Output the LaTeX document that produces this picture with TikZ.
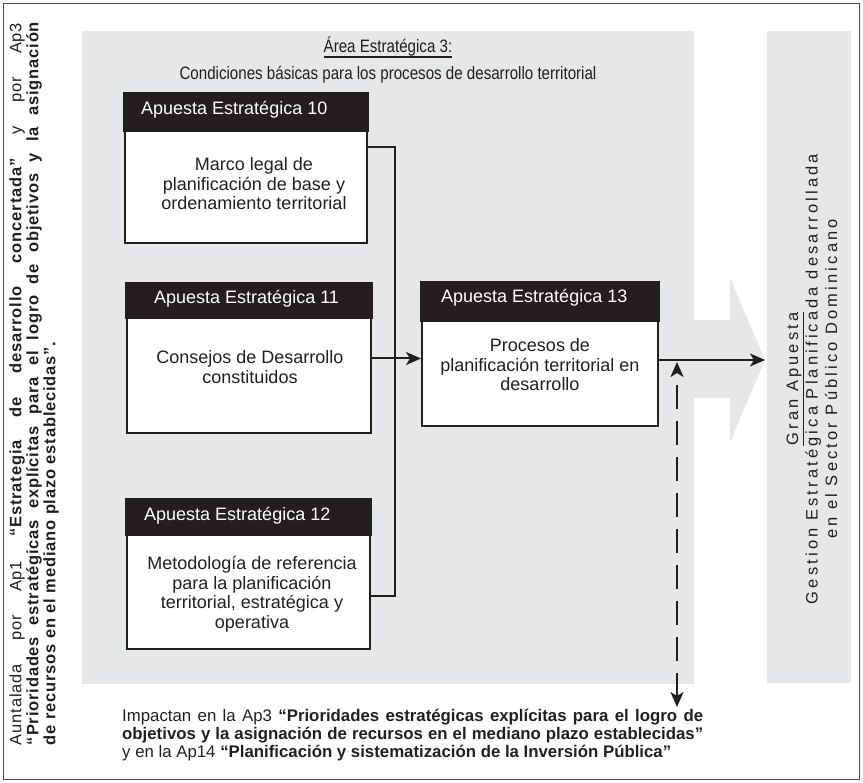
\documentclass[tikz,border=0pt]{standalone}
\usepackage{fontspec}
\setmainfont{Liberation Sans}
\newfontfamily\narrowfont[FakeStretch=0.84]{Liberation Sans}
\newfontfamily\spacedfont[LetterSpace=19]{Liberation Sans}
\newfontfamily\sidefont[LetterSpace=5]{Liberation Sans}
\usetikzlibrary{arrows.meta}
\definecolor{panel}{HTML}{E6E7E8}
\definecolor{ink}{HTML}{231F20}
\begin{document}
\begin{tikzpicture}[x=1pt,y=-1pt,
  >={Stealth[length=15pt,width=13pt,inset=4pt]},
  box/.style={draw=ink, line width=2pt, fill=white, inner sep=0pt},
  hdr/.style={text=white, anchor=west, inner sep=0pt, font=\fontsize{18}{19.5}\selectfont},
  body/.style={text=ink, align=center, inner sep=0pt, font=\fontsize{18}{19.5}\selectfont},
  conn/.style={draw=ink, line width=2pt},
  note/.style={text=ink, inner sep=0pt}]
\useasboundingbox (0,0) rectangle (863,783);
% outer frame
\draw[line width=1pt, draw=ink!80] (3.5,3.5) rectangle (859.5,779.5);
% grey panels and the wide arrow between them
\fill[panel] (82,31) rectangle (694,684);
\fill[panel] (767,31) rectangle (851,683);
\fill[panel] (694,320) -- (730,320) -- (730,278) -- (765,360) -- (730,442) -- (730,398) -- (694,398) -- cycle;
\coordinate (gtip) at (765,360);

% area title
\node[note, anchor=base, font=\narrowfont\fontsize{18}{20}\selectfont] (title) at (388,53) {Área Estratégica 3:};
\draw[line width=1.6pt, ink] ([yshift=-4pt]title.base west) -- ([yshift=-4pt]title.base east);
\node[note, anchor=base, font=\narrowfont\fontsize{18}{20}\selectfont] (sub) at (388,80) {Condiciones básicas para los procesos de desarrollo territorial};

% strategic bets
\node[box, minimum width=242pt, minimum height=149pt] (b10) at (246,168.5) {};
\node[box, minimum width=244pt, minimum height=149pt] (b11) at (249,358.5) {};
\node[box, minimum width=243pt, minimum height=149pt] (b12) at (248.5,574.5) {};
\node[box, minimum width=236pt, minimum height=143pt] (b13) at (540,354.5) {};
\foreach \b/\h in {b10/39,b11/36,b12/37,b13/40}{
  \fill[ink] ([xshift=-1pt,yshift=1pt]\b.north west) rectangle ([xshift=1pt,yshift=-\h pt]\b.north east);
}
\node[hdr] (h10) at ([xshift=17pt,yshift=-17pt]b10.north west) {Apuesta Estratégica 10};
\node[hdr] (h11) at ([xshift=28pt,yshift=-16pt]b11.north west) {Apuesta Estratégica 11};
\node[hdr] (h12) at ([xshift=18pt,yshift=-17pt]b12.north west) {Apuesta Estratégica 12};
\node[hdr] (h13) at ([xshift=20pt,yshift=-16pt]b13.north west) {Apuesta Estratégica 13};

\node[body] (t10) at (254,184) {Marco legal de\\planificación de base y\\ordenamiento territorial};
\node[body] (t11) at (250,367) {Consejos de Desarrollo\\constituidos};
\node[body] (t12) at (252,594) {Metodología de referencia\\para la planificación\\territorial, estratégica y\\operativa};
\node[body] (t13) at (540,365) {Procesos de\\planificación territorial en\\desarrollo};

% connectors
\draw[conn] ([yshift=-54pt]b10.north east) -- ++(27,0) |- ([yshift=-97pt]b12.north east);
\draw[conn,->] (b11.east) -- (b13.west |- b11.east);
\draw[conn,->] ([yshift=-5.5pt]b13.east) -- (gtip);
\coordinate (impt) at (677,362);
\coordinate (impb) at (677,707);
\draw[conn, dash pattern=on 24pt off 12pt, <->] (impb) -- (impt);

% side notes
\node[note, rotate=90, text width=723pt, align=justify, font=\sidefont\fontsize{16.5}{17}\selectfont] (left) at (34,383.5)
  {Auntalada por Ap1 \textbf{“Estrategia de desarrollo concertada”} y por Ap3\linebreak
   \textbf{“Prioridades estratégicas explícitas para el logro de objetivos y la asignación\linebreak
   de recursos en el mediano plazo establecidas”.}};
\node[note, rotate=90, align=center, font=\spacedfont\fontsize{16.5}{19.5}\selectfont] (gran) at (812,379)
  {\underline{Gran Apuesta}\\Gestion Estratégica Planificada desarrollada\\en el Sector Público Dominicano};
\node[note, anchor=west, text width=581pt, align=justify, font=\fontsize{16.8}{18}\selectfont] (imp) at (122,735)
  {\parfillskip=0pt Impactan en la Ap3 \textbf{“Prioridades estratégicas explícitas para el logro de}\linebreak
   \textbf{objetivos y la asignación de recursos en el mediano plazo establecidas”}\linebreak
   y en la Ap14 \textbf{“Planificación y sistematización de la Inversión Pública”}};
\end{tikzpicture}
\end{document}
